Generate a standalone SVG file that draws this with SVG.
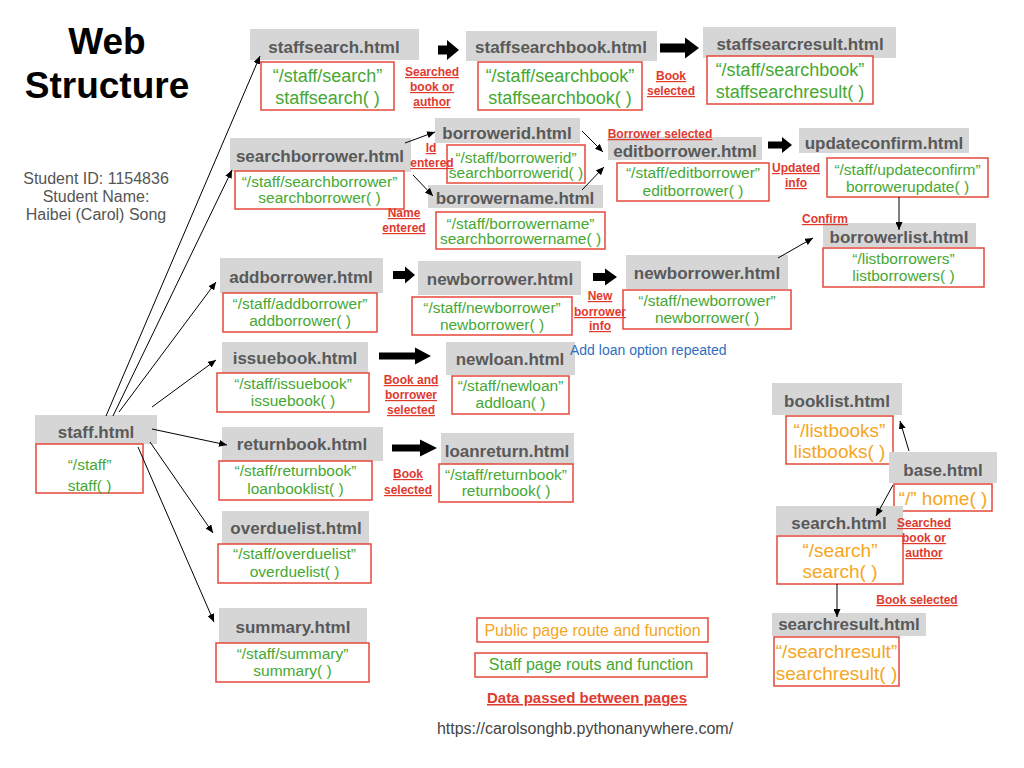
<svg xmlns="http://www.w3.org/2000/svg" width="1024" height="768" viewBox="0 0 1024 768">
<defs>
<marker id="ah" markerWidth="8" markerHeight="7" refX="8" refY="3.5" orient="auto" markerUnits="userSpaceOnUse"><path d="M0,0 L8,3.5 L0,7 z" fill="#000"/></marker>
<style>
text{font-family:"Liberation Sans",Arial,sans-serif}
.g{fill:#d6d6d6}
.gt{font-weight:bold;font-size:17px;fill:#595959;text-anchor:middle}
.rb{fill:#fff;stroke:#e5483b;stroke-width:1.5}
.gr{font-size:15.5px;fill:#46a832;text-anchor:middle}
.gr18{font-size:18px;fill:#46a832;text-anchor:middle}
.or{font-size:19px;fill:#f5a623;text-anchor:middle}
.lb{font-weight:bold;font-size:12px;fill:#e03a2f;text-anchor:middle;text-decoration:underline}
.ln{stroke:#000;stroke-width:1;fill:none;marker-end:url(#ah)}
.ta{fill:#000}
</style>
</defs>
<rect width="1024" height="768" fill="#fff"/>

<g id="title">
<text x="107" y="54" font-size="37" font-weight="bold" text-anchor="middle" fill="#000">Web</text>
<text x="107" y="98" font-size="37" font-weight="bold" text-anchor="middle" fill="#000">Structure</text>
<text x="96" y="184" font-size="16" text-anchor="middle" fill="#555">Student ID: 1154836</text>
<text x="96" y="202" font-size="16" text-anchor="middle" fill="#555">Student Name:</text>
<text x="96" y="220" font-size="16" text-anchor="middle" fill="#555">Haibei (Carol) Song</text>
</g>

<g id="staff">
<rect class="g" x="35" y="415" width="122" height="29"/>
<text class="gt" x="96" y="438" font-size="21">staff.html</text>
<rect class="rb" x="36" y="444" width="107" height="49"/>
<text class="gr" x="89.5" y="470" font-size="19">“/staff”</text>
<text class="gr" x="89.5" y="491" font-size="19">staff( )</text>
</g>

<g id="staffsearch">
<rect class="g" x="250" y="29" width="169" height="31"/>
<text class="gt" x="334" y="53">staffsearch.html</text>
<rect class="rb" x="261" y="62" width="133" height="48"/>
<text class="gr18" x="327.5" y="82">“/staff/search”</text>
<text class="gr18" x="327.5" y="104">staffsearch( )</text>
</g>

<g id="staffsearchbook">
<rect class="g" x="466" y="31" width="191" height="30"/>
<text class="gt" x="561" y="53">staffsearchbook.html</text>
<rect class="rb" x="478" y="62" width="164" height="48"/>
<text class="gr18" x="560" y="82">“/staff/searchbook”</text>
<text class="gr18" x="560" y="104">staffsearchbook( )</text>
</g>

<g id="staffsearcresult">
<rect class="g" x="703" y="27" width="193" height="31"/>
<text class="gt" x="800" y="50">staffsearcresult.html</text>
<rect class="rb" x="707" y="56" width="166" height="48"/>
<text class="gr18" x="790" y="76">“/staff/searchbook”</text>
<text class="gr18" x="790" y="98">staffsearchresult( )</text>
</g>

<g id="searchborrower">
<rect class="g" x="230" y="138" width="181" height="34"/>
<text class="gt" x="320" y="162">searchborrower.html</text>
<rect class="rb" x="235" y="171" width="169" height="38"/>
<text class="gr" x="319.5" y="187">“/staff/searchborrower”</text>
<text class="gr" x="319.5" y="203">searchborrower( )</text>
</g>

<g id="borrowerid">
<rect class="g" x="435" y="118" width="145" height="25"/>
<text class="gt" x="507" y="139">borrowerid.html</text>
<rect class="rb" x="447" y="145" width="138" height="38"/>
<text class="gr" x="516" y="163">“/staff/borrowerid”</text>
<text class="gr" x="516" y="178">searchborrowerid( )</text>
</g>

<g id="borrowername">
<rect class="g" x="428" y="185" width="175" height="23"/>
<text class="gt" x="515" y="204">borrowername.html</text>
<rect class="rb" x="436" y="212" width="169" height="37"/>
<text class="gr" x="520.5" y="229">“/staff/borrowername”</text>
<text class="gr" x="520.5" y="244">searchborrowername( )</text>
</g>

<g id="editborrower">
<rect class="g" x="608" y="137" width="154" height="23"/>
<text class="gt" x="685" y="157">editborrower.html</text>
<rect class="rb" x="617" y="163" width="152" height="38"/>
<text class="gr" x="693" y="178">“/staff/editborrower”</text>
<text class="gr" x="693" y="196">editborrower( )</text>
</g>

<g id="updateconfirm">
<rect class="g" x="799" y="128" width="170" height="25"/>
<text class="gt" x="884" y="149">updateconfirm.html</text>
<rect class="rb" x="827" y="158" width="161" height="39"/>
<text class="gr" x="907.5" y="175">“/staff/updateconfirm”</text>
<text class="gr" x="907.5" y="192">borrowerupdate( )</text>
</g>

<g id="borrowerlist">
<rect class="g" x="823" y="223" width="153" height="24"/>
<text class="gt" x="899" y="243">borrowerlist.html</text>
<rect class="rb" x="823" y="248" width="161" height="39"/>
<text class="gr" x="903.5" y="264">“/listborrowers”</text>
<text class="gr" x="903.5" y="281">listborrowers( )</text>
</g>

<g id="addborrower">
<rect class="g" x="220" y="258" width="163" height="35"/>
<text class="gt" x="301" y="283">addborrower.html</text>
<rect class="rb" x="223" y="293" width="154" height="39"/>
<text class="gr" x="300" y="309">“/staff/addborrower”</text>
<text class="gr" x="300" y="326">addborrower( )</text>
</g>

<g id="newborrower1">
<rect class="g" x="418" y="261" width="163" height="34"/>
<text class="gt" x="500" y="285">newborrower.html</text>
<rect class="rb" x="412" y="297" width="160" height="38"/>
<text class="gr" x="492" y="313">“/staff/newborrower”</text>
<text class="gr" x="492" y="330">newborrower( )</text>
</g>

<g id="newborrower2">
<rect class="g" x="626" y="255" width="162" height="34"/>
<text class="gt" x="707" y="279">newborrower.html</text>
<rect class="rb" x="623" y="290" width="168" height="39"/>
<text class="gr" x="707" y="306">“/staff/newborrower”</text>
<text class="gr" x="707" y="323">newborrower( )</text>
</g>

<g id="issuebook">
<rect class="g" x="222" y="342" width="146" height="33"/>
<text class="gt" x="295" y="364">issuebook.html</text>
<rect class="rb" x="217" y="373" width="152" height="39"/>
<text class="gr" x="293" y="389">“/staff/issuebook”</text>
<text class="gr" x="293" y="406">issuebook( )</text>
</g>

<g id="newloan">
<rect class="g" x="446" y="342" width="129" height="33"/>
<text class="gt" x="510" y="365">newloan.html</text>
<rect class="rb" x="452" y="376" width="117" height="38"/>
<text class="gr" x="510.5" y="391">“/staff/newloan”</text>
<text class="gr" x="510.5" y="408">addloan( )</text>
</g>

<g id="returnbook">
<rect class="g" x="222" y="427" width="161" height="34"/>
<text class="gt" x="302" y="450">returnbook.html</text>
<rect class="rb" x="219" y="461" width="153" height="39"/>
<text class="gr" x="295.5" y="476">“/staff/returnbook”</text>
<text class="gr" x="295.5" y="494">loanbooklist( )</text>
</g>

<g id="loanreturn">
<rect class="g" x="441" y="433" width="133" height="32"/>
<text class="gt" x="507" y="457">loanreturn.html</text>
<rect class="rb" x="439" y="464" width="134" height="38"/>
<text class="gr" x="506" y="480">“/staff/returnbook”</text>
<text class="gr" x="506" y="496">returnbook( )</text>
</g>

<g id="overduelist">
<rect class="g" x="222" y="511" width="147" height="33"/>
<text class="gt" x="296" y="534">overduelist.html</text>
<rect class="rb" x="218" y="544" width="153" height="39"/>
<text class="gr" x="294.5" y="559">“/staff/overduelist”</text>
<text class="gr" x="294.5" y="577">overduelist( )</text>
</g>

<g id="summary">
<rect class="g" x="219" y="608" width="148" height="35"/>
<text class="gt" x="293" y="633">summary.html</text>
<rect class="rb" x="216" y="643" width="153" height="39"/>
<text class="gr" x="292.5" y="659">“/staff/summary”</text>
<text class="gr" x="292.5" y="676">summary( )</text>
</g>

<g id="booklist">
<rect class="g" x="772" y="383" width="130" height="32"/>
<text class="gt" x="837" y="407">booklist.html</text>
<rect class="rb" x="786" y="416" width="107" height="48"/>
<text class="or" x="839.5" y="437">“/listbooks”</text>
<text class="or" x="839.5" y="458">listbooks( )</text>
</g>

<g id="base">
<rect class="g" x="889" y="452" width="108" height="31"/>
<text class="gt" x="943" y="476" font-size="19.5">base.html</text>
<rect class="rb" x="894" y="484" width="98" height="27"/>
<text class="or" x="943" y="505">“/” home( )</text>
</g>

<g id="search">
<rect class="g" x="776" y="506" width="127" height="29"/>
<text class="gt" x="839" y="529">search.html</text>
<rect class="rb" x="777" y="536" width="126" height="48"/>
<text class="or" x="840" y="557">“/search”</text>
<text class="or" x="840" y="578">search( )</text>
</g>

<g id="searchresult">
<rect class="g" x="772" y="613" width="154" height="23"/>
<text class="gt" x="849" y="630">searchresult.html</text>
<rect class="rb" x="774" y="637" width="125" height="49"/>
<text class="or" x="836.5" y="658">“/searchresult”</text>
<text class="or" x="836.5" y="680">searchresult( )</text>
</g>

<g id="legend">
<rect class="rb" x="477" y="618" width="231" height="24"/>
<text x="592.5" y="636" font-size="16" text-anchor="middle" fill="#f5a623">Public page route and function</text>
<rect class="rb" x="475" y="653" width="232" height="24"/>
<text x="591" y="670" font-size="16" text-anchor="middle" fill="#46a832">Staff page routs and function</text>
<text x="587" y="703" font-size="15" font-weight="bold" text-anchor="middle" fill="#e03a2f" text-decoration="underline">Data passed between pages</text>
<text x="585" y="734" font-size="16" text-anchor="middle" fill="#444">https://carolsonghb.pythonanywhere.com/</text>
</g>

<g id="connectors">
<path class="ln" d="M106,416 L260,56"/>
<path class="ln" d="M113,416 L232,170"/>
<path class="ln" d="M119,412 L216,282"/>
<path class="ln" d="M152,407 L216,360"/>
<path class="ln" d="M152,429 L227,445"/>
<path class="ln" d="M150,442 L213,533"/>
<path class="ln" d="M138,447 L214,622"/>
<path class="ln" d="M405,143 L435,132"/>
<path class="ln" d="M413,175 L433,196"/>
<path class="ln" d="M582,131 L603,152"/>
<path class="ln" d="M582,190 L604,167"/>
<path class="ln" d="M899,197 L899,230"/>
<path class="ln" d="M778,258 L813,238"/>
<path class="ln" d="M909,451 L900,421"/>
<path class="ln" d="M893,485 L876,516"/>
<path class="ln" d="M837,584 L837,617"/>
<polygon class="ta" points="438,45.5 447,45.5 447,40 459,50 447,60 447,54.5 438,54.5"/>
<polygon class="ta" points="660,43.5 685,43.5 685,37.5 699,48 685,58.5 685,52.5 660,52.5"/>
<polygon class="ta" points="768,141.5 782,141.5 782,137 792,145 782,153 782,148.5 768,148.5"/>
<polygon class="ta" points="393,271 405,271 405,266.5 415,275 405,283.5 405,279 393,279"/>
<polygon class="ta" points="593,273 605,273 605,268.5 617,277 605,285.5 605,281 593,281"/>
<polygon class="ta" points="379,352.5 415,352.5 415,347.5 431,356 415,364.5 415,359.5 379,359.5"/>
<polygon class="ta" points="392,444.5 420,444.5 420,439.5 437,448 420,456.5 420,451.5 392,451.5"/>
</g>

<g id="labels">
<text class="lb" x="432" y="76">Searched</text>
<text class="lb" x="432" y="91">book or</text>
<text class="lb" x="432" y="106">author</text>
<text class="lb" x="671" y="80">Book</text>
<text class="lb" x="671" y="95">selected</text>
<text class="lb" x="431" y="152">Id</text>
<text class="lb" x="432" y="167">entered</text>
<text class="lb" x="404" y="217">Name</text>
<text class="lb" x="404" y="232">entered</text>
<text class="lb" x="660" y="138">Borrower selected</text>
<text class="lb" x="796" y="172">Updated</text>
<text class="lb" x="796" y="187">info</text>
<text class="lb" x="825" y="223">Confirm</text>
<text class="lb" x="600" y="300">New</text>
<text class="lb" x="600" y="316">borrower</text>
<text class="lb" x="600" y="330">info</text>
<text class="lb" x="411" y="384">Book and</text>
<text class="lb" x="411" y="399">borrower</text>
<text class="lb" x="411" y="414">selected</text>
<text class="lb" x="408" y="478">Book</text>
<text class="lb" x="408" y="494">selected</text>
<text class="lb" x="924" y="527">Searched</text>
<text class="lb" x="924" y="542">book or</text>
<text class="lb" x="924" y="557">author</text>
<text class="lb" x="917" y="604">Book selected</text>
<text x="570" y="355" font-size="14" fill="#2f6fc0">Add loan option repeated</text>
</g>
</svg>
